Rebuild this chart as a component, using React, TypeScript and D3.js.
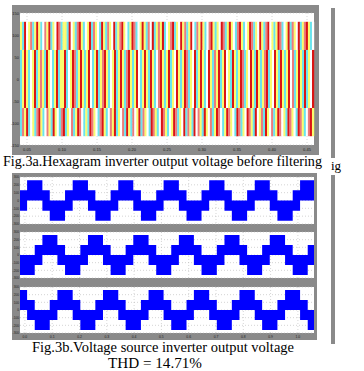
import React from 'react';
import * as d3 from 'd3';

const W = 364;
const H = 371;

// ---------- Fig.3a (top) ----------
const topYTicks = [150, 100, 50, 0, -50, -100, -150];
const topXTicks = [0.05, 0.1, 0.15, 0.2, 0.25, 0.3, 0.35, 0.4, 0.45];
const topXDomain = [0.04, 0.46];
// voltage levels of the switched bands
const topOuterLevel = 130;
const topInnerLevel = 66;
// stripe colour sequences (per narrow column) for the upper, middle and lower bands
const stripesUpper =
  'YCRWYPCYRYCWPYRCYWRPCYYCRWYCPRYCWYRCPYWCRYCPYWRCYPRYWCYRPCWYRYCPWRCYPYRCWYPRCYWRYPCYRWCPYRYCWPRYCYWRPCYRYWCPRYCWYRPCYWRYCPRWYCYRPCWYRCPYWRCYPRYCW';
const stripesMiddle =
  'CYRYCWYRCYPYCRYWCYRCYYRCWYRPCYRYCYRWCYRCYPRYCWYRCYRYCPRYCYRWCYRYCRYCWPRYCYRCYWRYCYRPCYWRCYRYCWRYCPYRCYRWYCRYCYRPCYWRYCRYCYPRCYWRYCRYCYRWPCYRYCRCYWR';
const stripesLower =
  'CPYRCWYCPRYCWPYCRYWCPRCYWPCYRPWCYCRPYWCPRYCWPYRCYWPCRYCPWYRCPYWCRPYCWRPYCWYRPCYWRCPYCRWPYCRYWPCYRPWCYRPYWCRPCYWRPYCRWYPCRYWPCYRPWYCRPYWCRPYCWPRY';
const stripeColors: Record<string, string> = {
  Y: '#fbfb6e',
  C: '#6ae4ee',
  R: '#da1414',
  P: '#ec7c7c',
  W: '#ffffff',
};

// ---------- Fig.3b (bottom, three phases) ----------
const botXDomain = [-0.018, 1.059];
const botXTicks = [0, 0.1, 0.2, 0.3, 0.4, 0.5, 0.6, 0.7, 0.8, 0.9, 1.0];
const botYTicks = [300, 200, 100, 0, -100, -200, -300];
// band index: 2 = upper, 1 = middle, 0 = lower
const bandEdges: Record<number, [number, number]> = {
  2: [0, 260],
  1: [-130, 130],
  0: [-260, 0],
};
const phaseA: [number, number][] = [
  [-0.018, 1], [0.008, 2], [0.064, 1], [0.091, 0], [0.147, 1], [0.175, 2], [0.231, 1],
  [0.258, 0], [0.314, 1], [0.342, 2], [0.397, 1], [0.425, 0], [0.481, 1], [0.508, 2],
  [0.564, 1], [0.592, 0], [0.647, 1], [0.675, 2], [0.731, 1], [0.758, 0], [0.814, 1],
  [0.842, 2], [0.897, 1], [0.925, 0], [0.981, 1], [1.008, 2],
];
const phaseB: [number, number][] = [
  [-0.018, 0], [0.036, 1], [0.064, 2], [0.119, 1], [0.147, 0], [0.203, 1], [0.231, 2],
  [0.286, 1], [0.314, 0], [0.369, 1], [0.397, 2], [0.453, 1], [0.481, 0], [0.536, 1],
  [0.564, 2], [0.619, 1], [0.647, 0], [0.703, 1], [0.731, 2], [0.786, 1], [0.814, 0],
  [0.869, 1], [0.897, 2], [0.953, 1], [0.981, 0], [1.036, 1],
];
const phaseC: [number, number][] = [
  [-0.018, 2], [0.008, 1], [0.036, 0], [0.091, 1], [0.119, 2], [0.175, 1], [0.203, 0],
  [0.258, 1], [0.286, 2], [0.342, 1], [0.369, 0], [0.425, 1], [0.453, 2], [0.508, 1],
  [0.536, 0], [0.592, 1], [0.619, 2], [0.675, 1], [0.703, 0], [0.758, 1], [0.786, 2],
  [0.842, 1], [0.869, 0], [0.925, 1], [0.953, 2], [1.008, 1], [1.036, 0],
];
const phases = [phaseA, phaseB, phaseC];

const captionA = 'Fig.3a.Hexagram inverter output voltage before filtering';
const captionB = 'Fig.3b.Voltage source inverter output voltage';
const captionC = 'THD = 14.71%';

const FRAME = '#8a8a8a';
const GRID = '#b8b8b8';
const SERIF = '"Liberation Serif", "Times New Roman", serif';

function TopChart() {
  const x0 = 20, x1 = 314, y0 = 13, y1 = 145;
  const x = d3.scaleLinear().domain(topXDomain).range([x0, x1]);
  const y = d3.scaleLinear().domain([-150, 150]).range([y1, y0]);
  const bands: { s: string; lo: number; hi: number }[] = [
    { s: stripesUpper, lo: topInnerLevel, hi: topOuterLevel },
    { s: stripesMiddle, lo: -topInnerLevel, hi: topInnerLevel },
    { s: stripesLower, lo: -topOuterLevel, hi: -topInnerLevel },
  ];
  return (
    <g>
      <rect x={12} y={5} width={307} height={150} fill={FRAME} />
      <rect x={x0} y={y0} width={x1 - x0} height={y1 - y0} fill="#fff" />
      {topXTicks.map((t) => (
        <line key={'gx' + t} x1={x(t)} x2={x(t)} y1={y0} y2={y1} stroke={GRID} strokeWidth={0.6} strokeDasharray="1,2" />
      ))}
      {topYTicks.map((v) => (
        <line key={'gy' + v} x1={x0} x2={x1} y1={y(v)} y2={y(v)} stroke={GRID} strokeWidth={0.6} strokeDasharray="1,2" />
      ))}
      {bands.map((b, bi) => {
        const cols = b.s.split('');
        const bs = d3.scaleBand<number>().domain(d3.range(cols.length)).range([x0, x1]);
        return (
          <g key={'band' + bi}>
            {cols.map((c, i) => (
              <rect
                key={i}
                x={bs(i)}
                y={y(b.hi)}
                width={bs.bandwidth() + 0.2}
                height={y(b.lo) - y(b.hi)}
                fill={stripeColors[c]}
              />
            ))}
          </g>
        );
      })}
      {topYTicks.map((v) => (
        <text key={'ly' + v} x={19} y={y(v) + 1.5} fontSize={4} textAnchor="end" fill="#222" fontFamily="Arial, sans-serif">
          {v}
        </text>
      ))}
      {topXTicks.map((t) => (
        <text key={'lx' + t} x={x(t)} y={151} fontSize={4} textAnchor="middle" fill="#222" fontFamily="Arial, sans-serif">
          {t.toFixed(2)}
        </text>
      ))}
    </g>
  );
}

function BottomChart() {
  const x0 = 20, x1 = 314;
  const panels = [
    [177, 224],
    [232, 278],
    [287, 333],
  ];
  const x = d3.scaleLinear().domain(botXDomain).range([x0, x1]);
  return (
    <g>
      <rect x={12} y={173} width={305} height={167} fill={FRAME} />
      {panels.map(([py0, py1], pi) => {
        const y = d3.scaleLinear().domain([-300, 300]).range([py1, py0]);
        const data = phases[pi].concat([[botXDomain[1], phases[pi][phases[pi].length - 1][1]]]);
        const area = d3
          .area<[number, number]>()
          .x((d) => x(d[0]))
          .y0((d) => y(bandEdges[d[1]][0]))
          .y1((d) => y(bandEdges[d[1]][1]))
          .curve(d3.curveStepAfter);
        return (
          <g key={pi}>
            <rect x={x0} y={py0} width={x1 - x0} height={py1 - py0} fill="#fff" />
            {botXTicks.map((t) => (
              <line key={'gx' + t} x1={x(t)} x2={x(t)} y1={py0} y2={py1} stroke={GRID} strokeWidth={0.6} strokeDasharray="1,2" />
            ))}
            {botYTicks.map((v) => (
              <line key={'gy' + v} x1={x0} x2={x1} y1={y(v)} y2={y(v)} stroke={GRID} strokeWidth={0.6} strokeDasharray="1,2" />
            ))}
            <path d={area(data) || ''} fill="#0000ff" />
            {botYTicks.map((v) => (
              <text key={'ly' + v} x={19} y={y(v) + 1.2} fontSize={3.2} textAnchor="end" fill="#222" fontFamily="Arial, sans-serif">
                {v}
              </text>
            ))}
          </g>
        );
      })}
      {botXTicks.map((t) => (
        <text key={'lx' + t} x={x(t)} y={338} fontSize={3.4} textAnchor="middle" fill="#222" fontFamily="Arial, sans-serif">
          {t.toFixed(1)}
        </text>
      ))}
    </g>
  );
}

export default function App() {
  return (
    <svg
      width={W}
      height={H}
      viewBox={`0 0 ${W} ${H}`}
      style={{ position: 'absolute', left: 0, top: 0, background: '#fff' }}
    >
      <rect x={0} y={0} width={W} height={H} fill="#fff" />
      <TopChart />
      <BottomChart />
      <rect x={331} y={8} width={4} height={150} fill={FRAME} />
      <rect x={331} y={175} width={4} height={169} fill={FRAME} />
      <text x={3} y={166} fontSize={14} fontFamily={SERIF} fill="#000" textLength={319} lengthAdjust="spacingAndGlyphs">
        {captionA}
      </text>
      <text x={331} y={170} fontSize={13} fontFamily={SERIF} fill="#000">
        ig
      </text>
      <text x={32} y={352} fontSize={14} fontFamily={SERIF} fill="#000" textLength={262} lengthAdjust="spacingAndGlyphs">
        {captionB}
      </text>
      <text x={108} y={368} fontSize={14} fontFamily={SERIF} fill="#000" textLength={94} lengthAdjust="spacingAndGlyphs">
        {captionC}
      </text>
    </svg>
  );
}
